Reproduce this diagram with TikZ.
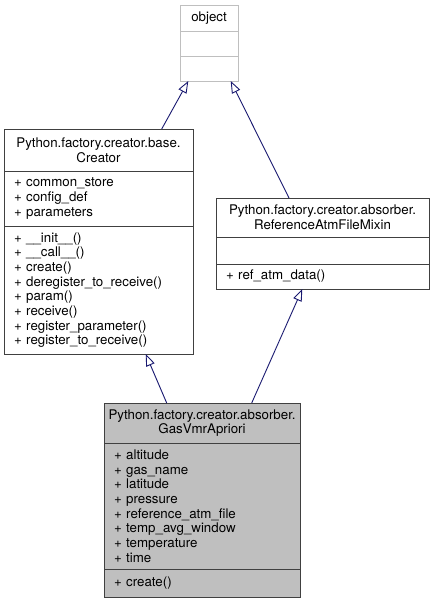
\documentclass[tikz,border=0pt]{standalone}
\usepackage{fontspec}
\setmainfont{TeX Gyre Heros}
\usetikzlibrary{arrows.meta}
\definecolor{edgeblue}{HTML}{191970}
\definecolor{boxline}{HTML}{404040}
\definecolor{lightline}{HTML}{BFBFBF}
\definecolor{greyfill}{HTML}{BFBFBF}
\tikzset{
  classtitle/.style={draw=boxline, line width=1pt, anchor=north west, align=center,
    inner sep=0pt, outer sep=0pt, font=\fontsize{13.3}{14.67}\selectfont},
  members/.style={classtitle, align=left, inner xsep=10pt, inner ysep=1pt},
  inherit/.style={draw=edgeblue, line width=0.9pt, -{Triangle[open, length=12pt, width=9pt]}}
}
\begin{document}
\begin{tikzpicture}[x=1pt,y=1pt]
    \useasboundingbox (0,0) rectangle (431,-603);
    % object
    \node[classtitle, draw=lightline, minimum width=58, minimum height=26] (objTitle) at (180,-5) {object};
    \node[members, draw=lightline, text width=38pt, minimum height=25] (objAttrs) at (180,-31) {};
    \node[members, draw=lightline, text width=38pt, minimum height=25] (objMethods) at (180,-56) {};
    % Creator
    \node[classtitle, minimum width=189, minimum height=42] (creatorTitle) at (4,-129) {Python.factory.creator.base.\\Creator};
    \node[members, text width=169pt, minimum height=55] (creatorAttrs) at (4,-171)
      {+ common\_store\\+ config\_def\\+ parameters};
    \node[members, text width=169pt, minimum height=128] (creatorMethods) at (4,-226)
      {+ \_\_init\_\_()\\+ \_\_call\_\_()\\+ create()\\+ deregister\_to\_receive()\\+ param()\\+ receive()\\+ register\_parameter()\\+ register\_to\_receive()};
    % ReferenceAtmFileMixin
    \node[classtitle, minimum width=213, minimum height=39] (mixinTitle) at (216,-198) {Python.factory.creator.absorber.\\ReferenceAtmFileMixin};
    \node[members, text width=193pt, minimum height=27] (mixinAttrs) at (216,-237) {};
    \node[members, text width=193pt, minimum height=25] (mixinMethods) at (216,-264) {+ ref\_atm\_data()};
    % GasVmrApriori
    \node[classtitle, fill=greyfill, minimum width=196, minimum height=40] (gasTitle) at (104,-403) {Python.factory.creator.absorber.\\GasVmrApriori};
    \node[members, fill=greyfill, text width=176pt, minimum height=126] (gasAttrs) at (104,-443)
      {+ altitude\\+ gas\_name\\+ latitude\\+ pressure\\+ reference\_atm\_file\\+ temp\_avg\_window\\+ temperature\\+ time};
    \node[members, fill=greyfill, text width=176pt, minimum height=28] (gasMethods) at (104,-569) {+ create()};
    % inheritance
    \draw[inherit] ([xshift=63.2pt]creatorTitle.north) -- ([xshift=-20.7pt]objMethods.south);
    \draw[inherit] ([xshift=-33.5pt]mixinTitle.north) -- ([xshift=21.7pt]objMethods.south);
    \draw[inherit] ([xshift=-35.3pt]gasTitle.north) -- ([xshift=47.2pt]creatorMethods.south);
    \draw[inherit] ([xshift=49.7pt]gasTitle.north) -- ([xshift=-20.2pt]mixinMethods.south);
\end{tikzpicture}
\end{document}
